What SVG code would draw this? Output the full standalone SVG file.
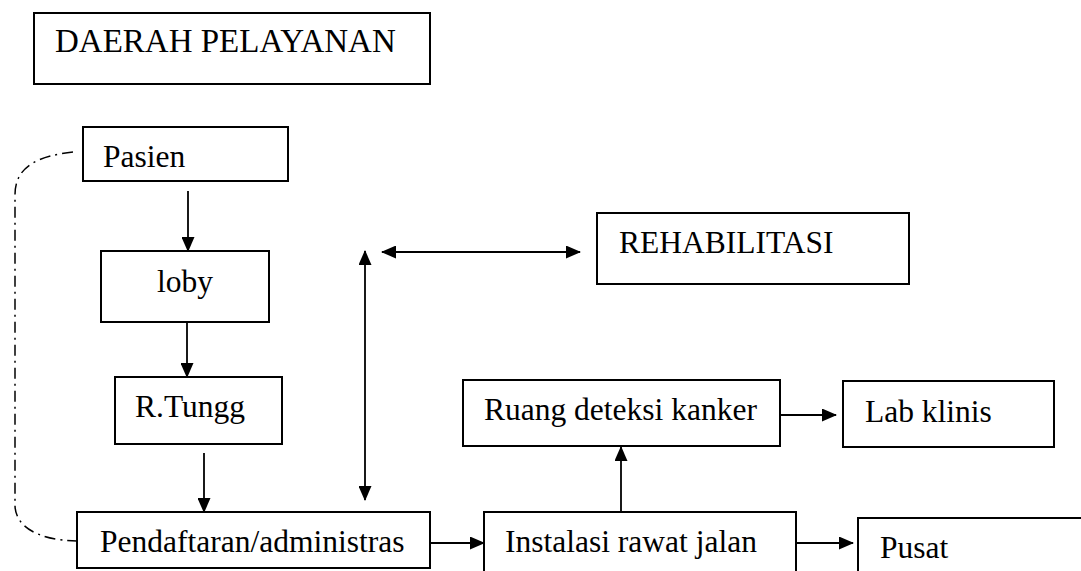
<svg xmlns="http://www.w3.org/2000/svg" width="1081" height="571" viewBox="0 0 1081 571">
<style>
.box{fill:#fff;stroke:#000;stroke-width:2}
.t{font-family:'Liberation Serif','Times New Roman',Times,serif;font-size:31.5px;fill:#000}
.c{fill:none;stroke:#000;stroke-width:1.8}
.dd{fill:none;stroke:#000;stroke-width:1.5;stroke-dasharray:11 5 2 5}
</style>
<defs>
<marker id="ah" markerWidth="15" markerHeight="13" refX="14" refY="6.5" orient="auto-start-reverse" markerUnits="userSpaceOnUse">
<path d="M0,0 L15,6.5 L0,13 z" fill="#000"/>
</marker>
</defs>
<rect width="1081" height="571" fill="#fff"/>
<g id="title">
<rect class="box" x="34" y="13" width="396" height="71"/>
<text class="t" x="55" y="52" style="font-size:33px">DAERAH PELAYANAN</text>
</g>
<g id="pasien">
<rect class="box" x="83" y="127" width="205" height="54"/>
<text class="t" x="103" y="167">Pasien</text>
</g>
<g id="loby">
<rect class="box" x="101" y="251" width="168" height="71"/>
<text class="t" x="185" y="292" text-anchor="middle">loby</text>
</g>
<g id="rtungg">
<rect class="box" x="115" y="377" width="167" height="67"/>
<text class="t" x="135" y="417">R.Tungg</text>
</g>
<g id="pendaftaran">
<rect class="box" x="77" y="512" width="353" height="56"/>
<text class="t" x="100" y="552">Pendaftaran/administras</text>
</g>
<g id="rehabilitasi">
<rect class="box" x="597" y="213" width="312" height="71"/>
<text class="t" x="619" y="253">REHABILITASI</text>
</g>
<g id="ruang">
<rect class="box" x="463" y="380" width="317" height="66"/>
<text class="t" x="484" y="420">Ruang deteksi kanker</text>
</g>
<g id="lab">
<rect class="box" x="843" y="381" width="211" height="66"/>
<text class="t" x="865" y="422">Lab klinis</text>
</g>
<g id="instalasi">
<path class="box" d="M484,575 V512 H796 V575"/>
<text class="t" x="505" y="552">Instalasi rawat jalan</text>
</g>
<g id="pusat">
<path class="box" d="M858,575 V518 H1085"/>
<text class="t" x="880" y="558">Pusat</text>
</g>
<g id="connectors">
<path class="c" d="M188,191 V251" marker-end="url(#ah)"/>
<path class="c" d="M187,322 V377" marker-end="url(#ah)"/>
<path class="c" d="M204,453 V512" marker-end="url(#ah)"/>
<path class="c" d="M430,543 H484" marker-end="url(#ah)"/>
<path class="c" d="M621,512 V447" marker-end="url(#ah)"/>
<path class="c" d="M780,415 H836" marker-end="url(#ah)"/>
<path class="c" d="M796,543 H853" marker-end="url(#ah)"/>
<path class="c" d="M365,500 V251" marker-start="url(#ah)" marker-end="url(#ah)"/>
<path class="c" d="M382,252 H580" marker-start="url(#ah)" marker-end="url(#ah)"/>
<path class="dd" d="M73,152 C40,156 15,165 15,195 V505 C15,525 35,540 77,541"/>
</g>
</svg>
